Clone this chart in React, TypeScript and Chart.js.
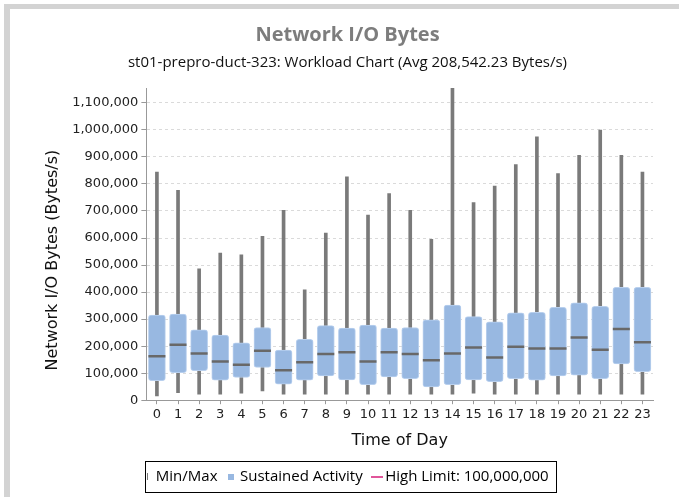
import React, { useEffect, useRef } from 'react';
import { Chart, registerables } from 'chart.js';

Chart.register(...registerables);

const hours = ['0', '1', '2', '3', '4', '5', '6', '7', '8', '9', '10', '11', '12', '13', '14', '15', '16', '17', '18', '19', '20', '21', '22', '23'];
const minValues = [16000, 28000, 22000, 22000, 26000, 34000, 22000, 22000, 22000, 22000, 22000, 22000, 22000, 22000, 22000, 26000, 22000, 22000, 22000, 22000, 22000, 22000, 22000, 22000];
const q1Values = [72000, 102000, 109000, 74000, 84000, 121000, 59000, 74000, 90000, 75000, 57000, 86000, 80000, 49000, 57000, 75000, 69000, 80000, 74000, 90000, 93000, 80000, 134000, 106000];
const medianValues = [163000, 205000, 173000, 143000, 131000, 183000, 111000, 140000, 171000, 177000, 143000, 177000, 171000, 148000, 173000, 195000, 158000, 198000, 191000, 191000, 232000, 187000, 263000, 214000];
const q3Values = [315000, 319000, 260000, 241000, 212000, 269000, 185000, 225000, 276000, 267000, 278000, 267000, 269000, 297000, 352000, 309000, 290000, 323000, 325000, 344000, 360000, 347000, 418000, 418000];
const maxValues = [844000, 776000, 486000, 544000, 538000, 606000, 702000, 408000, 618000, 826000, 685000, 764000, 702000, 595000, 1155000, 731000, 792000, 872000, 974000, 838000, 906000, 999000, 906000, 844000];
const yTickValues = [0, 100000, 200000, 300000, 400000, 500000, 600000, 700000, 800000, 900000, 1000000, 1100000];
const highLimit = 100000000;
const yMax = 1155000;

const chartTitle = 'Network I/O Bytes';
const chartSubtitle = 'st01-prepro-duct-323: Workload Chart (Avg 208,542.23 Bytes/s)';
const yAxisTitle = 'Network I/O Bytes (Bytes/s)';
const xAxisTitle = 'Time of Day';
const seriesNames = ['Min/Max', 'Sustained Activity', 'High Limit: ' + highLimit.toLocaleString('en-US')];

const WHISKER = '#7a7a7a';
const BOX = '#98b8e1';
const MEDIAN = '#686868';
const LIMIT = '#e0559a';

function makeIcon(w: number, h: number, color: string) {
  const c = document.createElement('canvas');
  c.width = w;
  c.height = h;
  const g = c.getContext('2d')!;
  g.fillStyle = color;
  g.fillRect(0, 0, w, h);
  return c;
}

const decorations = {
  id: 'decorations',
  afterDraw(chart: any) {
    const ctx = chart.ctx;
    // legend frame
    const lg = chart.legend;
    const hb = lg && lg.legendHitBoxes;
    if (hb && hb.length) {
      const first = hb[0];
      const last = hb[hb.length - 1];
      const x0 = Math.round(first.left - 1) + 0.5;
      const x1 = Math.round(last.left + last.width + 7) + 0.5;
      const y0 = Math.round(first.top - 8) + 0.5;
      const y1 = Math.round(first.top + first.height + 8) + 0.5;
      ctx.save();
      ctx.strokeStyle = '#000';
      ctx.lineWidth = 1;
      ctx.strokeRect(x0, y0, x1 - x0, y1 - y0);
      ctx.restore();
    }
    // y axis title, placed a little below the plot centre as in the original
    const s = chart.scales.y;
    const ca = chart.chartArea;
    ctx.save();
    ctx.font = '16px "DejaVu Sans"';
    ctx.fillStyle = '#111';
    ctx.textAlign = 'center';
    ctx.textBaseline = 'middle';
    ctx.translate(s.left + 1 + 9.6, (ca.top + ca.bottom) / 2 + 16);
    ctx.rotate(-Math.PI / 2);
    ctx.fillText(yAxisTitle, 0, 0);
    ctx.restore();
  },
};

export default function App() {
  const ref = useRef<HTMLCanvasElement | null>(null);

  useEffect(() => {
    if (!ref.current) return;
    const icons = [makeIcon(1, 7, WHISKER), makeIcon(6, 6, BOX), makeIcon(12, 2, LIMIT)];
    const colors = [WHISKER, BOX, LIMIT];
    const chart = new Chart(ref.current, {
      type: 'bar',
      data: {
        labels: hours,
        datasets: [
          {
            type: 'line',
            label: 'Median',
            data: medianValues,
            showLine: false,
            pointStyle: 'line',
            pointRadius: 8.5,
            pointHoverRadius: 8.5,
            pointBorderWidth: 2.5,
            pointBorderColor: MEDIAN,
            borderColor: MEDIAN,
            order: 1,
          } as any,
          {
            type: 'line',
            label: seriesNames[2],
            data: [],
            borderColor: LIMIT,
            backgroundColor: LIMIT,
            order: 0,
          } as any,
          {
            label: seriesNames[1],
            data: hours.map((_, i) => [q1Values[i], q3Values[i]]),
            backgroundColor: BOX,
            borderColor: '#b9d0ee',
            borderWidth: 1,
            borderSkipped: false,
            borderRadius: 3,
            barThickness: 17,
            grouped: false,
            order: 2,
          } as any,
          {
            label: seriesNames[0],
            data: hours.map((_, i) => [minValues[i], maxValues[i]]),
            backgroundColor: WHISKER,
            borderWidth: 0,
            barThickness: 3,
            grouped: false,
            order: 3,
          } as any,
        ],
      },
      options: {
        responsive: false,
        devicePixelRatio: 1,
        animation: false,
        events: [],
        layout: { padding: { left: 32, right: 26, top: 0, bottom: 3 } },
        plugins: {
          title: {
            display: true,
            text: chartTitle,
            color: '#7d7d7d',
            font: { family: 'Open Sans', size: 20, weight: 'bold' },
            padding: { top: 14, bottom: 4 },
          },
          subtitle: {
            display: true,
            text: chartSubtitle,
            color: '#111',
            font: { family: 'Open Sans', size: 15 },
            padding: { top: 3, bottom: 16 },
          },
          tooltip: { enabled: false },
          legend: {
            display: true,
            position: 'bottom',
            labels: {
              usePointStyle: true,
              boxWidth: 2,
              boxHeight: 7,
              padding: 13,
              color: '#000',
              font: { family: 'Open Sans', size: 15 },
              generateLabels: () =>
                seriesNames.map((t, i) => ({
                  text: t,
                  fillStyle: colors[i],
                  strokeStyle: colors[i],
                  lineWidth: 0,
                  pointStyle: icons[i],
                  hidden: false,
                  datasetIndex: i,
                })),
            },
          },
        },
        scales: {
          x: {
            offset: true,
            grid: { display: true, drawOnChartArea: false, drawTicks: true, tickLength: 4, offset: false, color: '#999' },
            border: { display: true, color: '#999', width: 1 },
            ticks: { color: '#222', padding: 3, font: { family: 'DejaVu Sans', size: 13 }, autoSkip: false, maxRotation: 0 },
            title: {
              display: true,
              text: xAxisTitle,
              color: '#111',
              font: { family: 'DejaVu Sans', size: 16 },
              padding: { top: 5, bottom: 6 },
            },
          },
          y: {
            min: 0,
            max: yMax,
            bounds: 'data',
            afterBuildTicks: (scale: any) => {
              scale.ticks = yTickValues.map((v) => ({ value: v }));
            },
            grid: { color: '#dadada', lineWidth: 1, tickLength: 5, tickColor: '#999', tickBorderDash: [] },
            border: { display: true, color: '#999', width: 1, dash: [3, 3] },
            ticks: {
              color: '#222',
              padding: 3,
              font: { family: 'DejaVu Sans', size: 13 },
              callback: (v: any) => Number(v).toLocaleString('en-US'),
            },
            title: {
              display: true,
              text: yAxisTitle,
              color: 'rgba(0,0,0,0)',
              font: { family: 'DejaVu Sans', size: 16 },
              padding: { top: 1, bottom: 7 },
            },
          },
        },
      } as any,
      plugins: [decorations],
    });
    return () => chart.destroy();
  }, []);

  return (
    <div style={{ position: 'absolute', left: 0, top: 0, width: 679, height: 497, background: '#fff', overflow: 'hidden' }}>
      <div style={{ position: 'absolute', left: 4, top: 4, width: 675, height: 5, background: '#d3d3d3' }} />
      <div style={{ position: 'absolute', left: 4, top: 4, width: 6, height: 493, background: '#d3d3d3' }} />
      <canvas ref={ref} width={669} height={488} style={{ position: 'absolute', left: 10, top: 9, width: 669, height: 488 }} />
    </div>
  );
}
